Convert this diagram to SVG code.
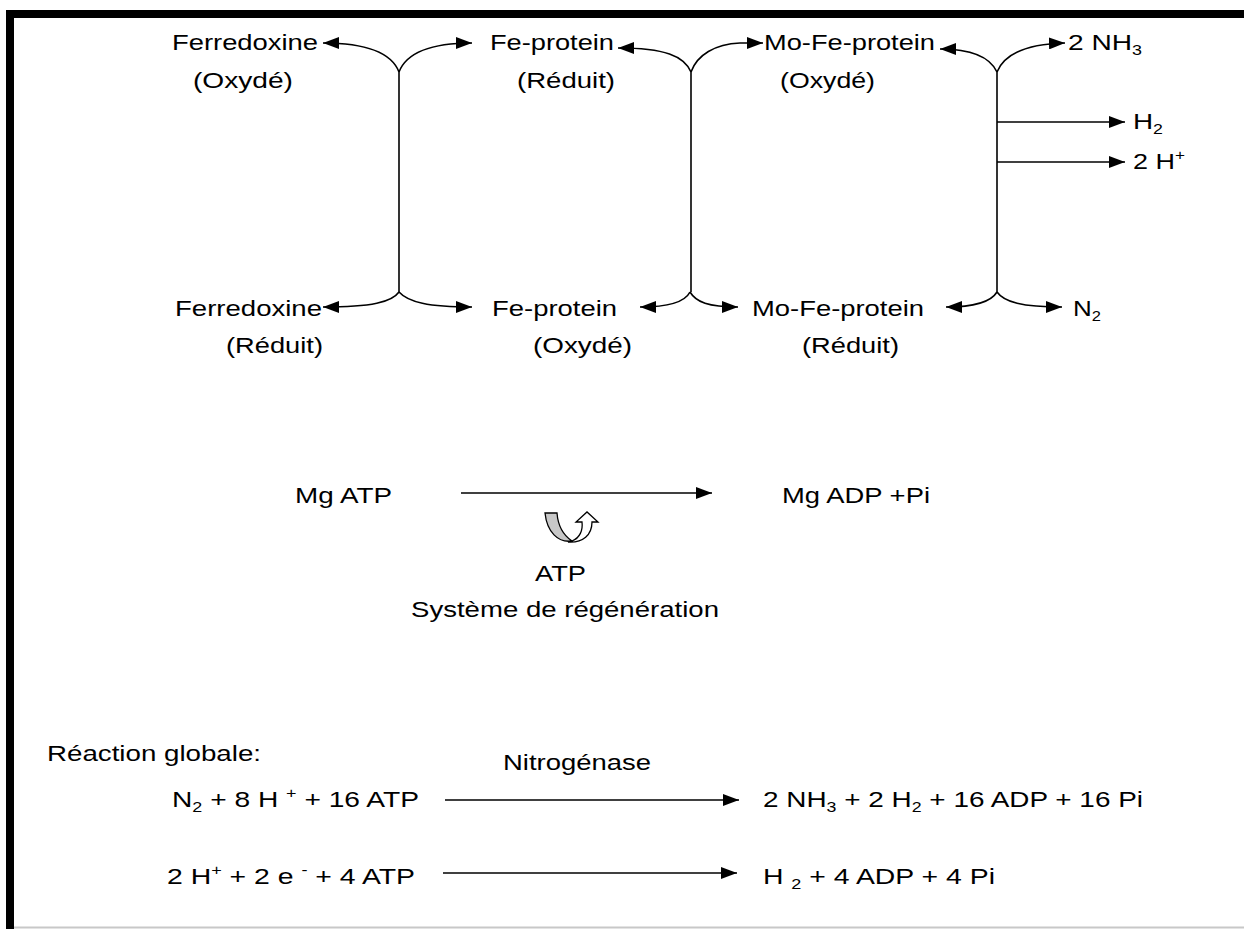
<svg xmlns="http://www.w3.org/2000/svg" width="1244" height="929" viewBox="0 0 1244 929">
<style>
.t{font-family:"Liberation Sans",Arial,sans-serif;font-size:22px;fill:#000}
.s{font-size:14px}
.c{fill:none;stroke:#000;stroke-width:1.6}
.ca{fill:none;stroke:#000;stroke-width:1.6;marker-end:url(#ah)}
</style>
<defs>
<marker id="ah" viewBox="0 0 16 12" refX="16" refY="6" markerWidth="16" markerHeight="12" markerUnits="userSpaceOnUse" orient="auto">
<path d="M0,0 L16,6 L0,12 Z" fill="#000"/>
</marker>
</defs>
<rect x="0" y="0" width="1244" height="929" fill="#fff"/>
<g id="frame">
<rect x="6" y="10" width="1238" height="8" fill="#000"/>
<rect x="6" y="10" width="8" height="919" fill="#000"/>
<line x1="14" y1="927.5" x2="1244" y2="927.5" stroke="#c8c8c8" stroke-width="2"/>
</g>
<g id="connectors">
<line class="c" x1="399" y1="72" x2="399" y2="292"/>
<line class="c" x1="691" y1="72" x2="691" y2="292"/>
<line class="c" x1="997" y1="72" x2="997" y2="292"/>
<path class="ca" d="M399,72 C392,54 370,43 323,43"/>
<path class="ca" d="M399,72 C406,54 428,43 472,43"/>
<path class="ca" d="M691,72 C684,56 665,48 618,48"/>
<path class="ca" d="M691,72 C697,55 715,44 740,43 L763,43"/>
<path class="ca" d="M997,72 C990,57 972,49 940,49"/>
<path class="ca" d="M997,72 C1004,55 1025,44 1065,43"/>
<path class="ca" d="M997,122 H1125"/>
<path class="ca" d="M997,162 H1125"/>
<path class="ca" d="M399,292 C392,302 372,307 323,307"/>
<path class="ca" d="M399,292 C408,302 428,307 472,307"/>
<path class="ca" d="M690,292 C685,302 670,307 640,307"/>
<path class="ca" d="M690,292 C696,302 708,307 738,307"/>
<path class="ca" d="M997,292 C991,302 976,307 946,307"/>
<path class="ca" d="M997,292 C1004,302 1022,307 1062,307"/>
<path class="ca" d="M461,493 H712"/>
<path class="ca" d="M445,800 H739"/>
<path class="ca" d="M443,873 H737"/>
</g>
<g id="regen-icon">
<path d="M545,513 L557,513 C558,526 563,535 572,541 C558,543 547,532 545,513 Z" fill="#c8c8c8" stroke="#000" stroke-width="1.3"/>
<path d="M572,541 C580,538 583,530 582,522 L576,522 L587,512 L598,522 L592,522 C592,535 583,543 568,542 Z" fill="#fff" stroke="#000" stroke-width="1.3"/>
</g>
<g id="ferredoxine-ox"><text class="t" x="172" y="50" textLength="146" lengthAdjust="spacingAndGlyphs">Ferredoxine</text><text class="t" x="193" y="88" textLength="100" lengthAdjust="spacingAndGlyphs">(Oxydé)</text></g>
<g id="fe-protein-red"><text class="t" x="490" y="50" textLength="124" lengthAdjust="spacingAndGlyphs">Fe-protein</text><text class="t" x="517" y="88" textLength="98" lengthAdjust="spacingAndGlyphs">(Réduit)</text></g>
<g id="mofe-protein-ox"><text class="t" x="764" y="50" textLength="171" lengthAdjust="spacingAndGlyphs">Mo-Fe-protein</text><text class="t" x="780" y="88" textLength="95" lengthAdjust="spacingAndGlyphs">(Oxydé)</text></g>
<g id="nh3"><text class="t" x="1068" y="50" textLength="74" lengthAdjust="spacingAndGlyphs">2 NH<tspan class="s" dy="5">3</tspan></text></g>
<g id="h2"><text class="t" x="1133" y="129" textLength="30" lengthAdjust="spacingAndGlyphs">H<tspan class="s" dy="5">2</tspan></text></g>
<g id="hplus"><text class="t" x="1133" y="169" textLength="52" lengthAdjust="spacingAndGlyphs">2 H<tspan class="s" dy="-9">+</tspan></text></g>
<g id="ferredoxine-red"><text class="t" x="175" y="316" textLength="147" lengthAdjust="spacingAndGlyphs">Ferredoxine</text><text class="t" x="226" y="353" textLength="97" lengthAdjust="spacingAndGlyphs">(Réduit)</text></g>
<g id="fe-protein-ox"><text class="t" x="492" y="316" textLength="125" lengthAdjust="spacingAndGlyphs">Fe-protein</text><text class="t" x="533" y="353" textLength="99" lengthAdjust="spacingAndGlyphs">(Oxydé)</text></g>
<g id="mofe-protein-red"><text class="t" x="752" y="316" textLength="172" lengthAdjust="spacingAndGlyphs">Mo-Fe-protein</text><text class="t" x="802" y="353" textLength="97" lengthAdjust="spacingAndGlyphs">(Réduit)</text></g>
<g id="n2"><text class="t" x="1073" y="316" textLength="28" lengthAdjust="spacingAndGlyphs">N<tspan class="s" dy="5">2</tspan></text></g>
<g id="mgatp"><text class="t" x="295" y="503" textLength="97" lengthAdjust="spacingAndGlyphs">Mg ATP</text></g>
<g id="mgadp"><text class="t" x="782" y="503" textLength="148" lengthAdjust="spacingAndGlyphs">Mg ADP +Pi</text></g>
<g id="atp-regen"><text class="t" x="535" y="581" textLength="51" lengthAdjust="spacingAndGlyphs">ATP</text><text class="t" x="411" y="617" textLength="308" lengthAdjust="spacingAndGlyphs">Système de régénération</text></g>
<g id="reaction-globale"><text class="t" x="47" y="761" textLength="214" lengthAdjust="spacingAndGlyphs">Réaction globale:</text></g>
<g id="nitrogenase"><text class="t" x="503" y="770" textLength="148" lengthAdjust="spacingAndGlyphs">Nitrogénase</text></g>
<g id="eq1-left"><text class="t" x="172" y="807" textLength="247" lengthAdjust="spacingAndGlyphs">N<tspan class="s" dy="5">2</tspan><tspan dy="-5"> + 8 H </tspan><tspan class="s" dy="-9">+</tspan><tspan dy="9"> + 16 ATP</tspan></text></g>
<g id="eq1-right"><text class="t" x="763" y="807" textLength="380" lengthAdjust="spacingAndGlyphs">2 NH<tspan class="s" dy="5">3</tspan><tspan dy="-5"> + 2 H</tspan><tspan class="s" dy="5">2</tspan><tspan dy="-5"> + 16 ADP + 16 Pi</tspan></text></g>
<g id="eq2-left"><text class="t" x="167" y="884" textLength="248" lengthAdjust="spacingAndGlyphs">2 H<tspan class="s" dy="-9">+</tspan><tspan dy="9"> + 2 e </tspan><tspan class="s" dy="-9">-</tspan><tspan dy="9">  + 4 ATP</tspan></text></g>
<g id="eq2-right"><text class="t" x="763" y="884" textLength="232" lengthAdjust="spacingAndGlyphs">H <tspan class="s" dy="5">2</tspan><tspan dy="-5"> + 4 ADP + 4 Pi</tspan></text></g>
</svg>
